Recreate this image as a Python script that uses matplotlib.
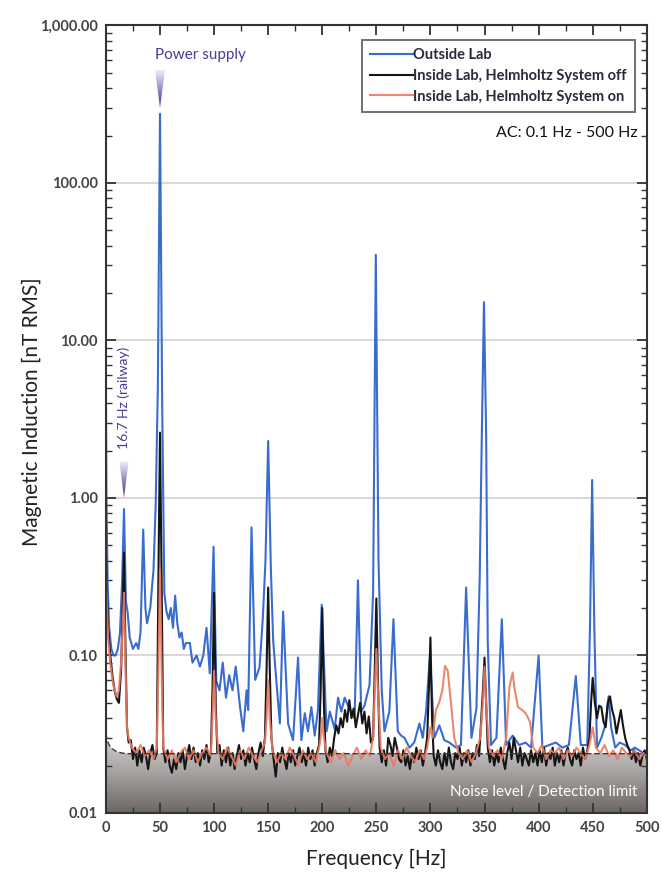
import numpy as np
import matplotlib
matplotlib.use("Agg")
from matplotlib import pyplot as plt
from matplotlib.ticker import FixedLocator, FuncFormatter, LogLocator, MultipleLocator
from matplotlib.colors import LinearSegmentedColormap
from matplotlib.patches import Polygon

plt.rcParams['font.family'] = ['Lato', 'DejaVu Sans']

# Outside Lab (blue)
blue_f = [0, 0.5, 1.5, 3, 5, 7, 9, 11, 13, 15, 16.7, 18.5, 20, 22, 25, 28, 30, 32, 34.5, 36.5,
          38, 41, 44, 46, 48, 50, 52, 54, 56, 58, 60, 62, 64, 66, 68, 70, 72, 74, 77.6, 80,
          83.8, 86.9, 90, 93, 96, 99.5, 102, 105, 108, 111, 114, 117, 120, 124, 127, 130, 131.5, 134.6, 138, 142,
          145, 147.5, 150, 152.5, 154.6, 157.7, 160.8, 163.8, 168.4, 173, 177.6, 180.7, 183.8, 186.8, 189.9, 193, 196, 199.5, 204, 207,
          211.5, 214.6, 217.6, 220.7, 223.8, 226.8, 229.9, 233, 236, 239, 243.7, 247, 249.5, 252, 255, 257.5, 262, 265.8, 269.8, 272.9,
          276, 280.6, 285, 289.8, 292.9, 295.9, 299.6, 303.6, 308.2, 312.8, 317.5, 323.6, 328.2, 333, 337.9, 342.5, 345.5, 347.5, 349.5, 351.5,
          353, 356, 361, 366, 370, 376, 382, 388, 393, 400, 403.5, 409.7, 415.9, 422, 428, 434.4, 439, 445, 447.5, 449.5,
          451.5, 454, 458, 461.6, 464.7, 467, 470.8, 475, 480, 485, 489, 493, 497, 500]
blue_v = [5.0, 1.0, 0.3, 0.15, 0.11, 0.1, 0.1, 0.11, 0.14, 0.3, 0.85, 0.22, 0.19, 0.13, 0.11, 0.12, 0.11, 0.14, 0.63, 0.2,
          0.16, 0.2, 0.35, 0.9, 5, 275, 4, 0.25, 0.19, 0.17, 0.2, 0.15, 0.24, 0.16, 0.13, 0.14, 0.11, 0.12, 0.12, 0.09,
          0.1, 0.085, 0.1, 0.15, 0.077, 0.49, 0.069, 0.06, 0.09, 0.054, 0.075, 0.06, 0.085, 0.047, 0.033, 0.06, 0.045, 0.65, 0.07, 0.084,
          0.17, 0.4, 2.3, 0.35, 0.125, 0.067, 0.037, 0.19, 0.037, 0.029, 0.097, 0.029, 0.043, 0.033, 0.047, 0.031, 0.045, 0.21, 0.033, 0.044,
          0.034, 0.054, 0.044, 0.054, 0.048, 0.044, 0.04, 0.3, 0.044, 0.048, 0.065, 0.25, 35, 0.4, 0.06, 0.033, 0.044, 0.17, 0.033, 0.031,
          0.03, 0.026, 0.028, 0.037, 0.03, 0.044, 0.1, 0.03, 0.036, 0.029, 0.028, 0.026, 0.027, 0.27, 0.03, 0.046, 0.3, 2.5, 17.5, 2.5,
          0.12, 0.027, 0.03, 0.17, 0.027, 0.031, 0.027, 0.028, 0.026, 0.1, 0.026, 0.027, 0.028, 0.026, 0.027, 0.074, 0.027, 0.027, 0.15, 1.3,
          0.15, 0.026, 0.03, 0.036, 0.055, 0.035, 0.026, 0.028, 0.027, 0.025, 0.026, 0.025, 0.024, 0.025]

# Inside Lab, Helmholtz System off (black)
black_f = [0, 1, 2, 4, 6, 8, 10, 12, 14, 15.5, 16.7, 18, 19.5, 21, 23, 25, 27, 29, 31, 33,
           35, 37, 39, 41, 43, 45, 47, 48.5, 50, 51.5, 53, 55, 57, 59, 61, 63, 65, 67, 69, 71,
           73, 75, 77, 79, 81, 83, 85, 87, 89, 91, 93, 95, 97, 98.5, 100, 101.5, 103, 105, 107, 109,
           111, 113, 115, 117, 119, 121, 123, 125, 127, 129, 131, 133, 135, 137, 139, 141, 143, 145, 147, 148.5,
           150, 151.5, 153, 155, 157, 159, 161, 163, 165, 167, 169, 171, 173, 175, 177, 179, 181, 183, 185, 187,
           189, 191, 193, 195, 197, 198.5, 200, 201.5, 203, 205, 207, 209, 211, 213, 215, 217, 219, 221, 223, 225,
           227, 229, 231, 233, 235, 237, 239, 241, 243, 245, 247, 248.5, 250, 251.5, 253, 255, 257, 259, 261, 263,
           265, 267, 269, 271, 273, 275, 277, 279, 281, 283, 285, 287, 289, 291, 293, 295, 297, 298.5, 300, 301.5,
           303, 305, 307, 309, 311, 313, 315, 317, 319, 321, 323, 325, 327, 329, 331, 333, 335, 337, 339, 341,
           343, 345, 347, 348.5, 350, 351.5, 353, 355, 357, 359, 361, 363, 365, 367, 369, 371, 373, 375, 377, 379,
           381, 383, 385, 387, 389, 391, 393, 395, 397, 399, 401, 403, 405, 407, 409, 411, 413, 415, 417, 419,
           421, 423, 425, 427, 429, 431, 433, 435, 437, 439, 441, 443, 445, 447, 448.5, 450, 452, 454, 456, 458,
           460, 462, 464, 466, 468, 470, 472, 474, 476, 478, 480, 482, 484, 486, 488, 490, 492, 494, 496, 498, 500]
black_v = [0.45, 0.25, 0.15, 0.1, 0.075, 0.06, 0.053, 0.05, 0.08, 0.2, 0.45, 0.12, 0.035, 0.028, 0.029, 0.022, 0.026, 0.02, 0.025, 0.021,
           0.026, 0.023, 0.019, 0.024, 0.027, 0.022, 0.024, 0.3, 2.6, 0.3, 0.026, 0.021, 0.025, 0.02, 0.018, 0.022, 0.019, 0.024, 0.021, 0.025,
           0.019, 0.023, 0.027, 0.022, 0.026, 0.021, 0.024, 0.02, 0.025, 0.022, 0.027, 0.021, 0.024, 0.06, 0.25, 0.05, 0.024, 0.027, 0.02, 0.025,
           0.021, 0.026, 0.02, 0.024, 0.019, 0.023, 0.027, 0.022, 0.025, 0.02, 0.024, 0.021, 0.026, 0.022, 0.019, 0.024, 0.028, 0.023, 0.03, 0.08,
           0.27, 0.08, 0.03, 0.022, 0.017, 0.024, 0.021, 0.026, 0.022, 0.019, 0.024, 0.021, 0.025, 0.02, 0.023, 0.026, 0.021, 0.024, 0.02, 0.026,
           0.022, 0.025, 0.02, 0.024, 0.027, 0.06, 0.2, 0.05, 0.025, 0.021, 0.026, 0.023, 0.03, 0.036, 0.032, 0.04, 0.035, 0.045, 0.038, 0.052,
           0.04, 0.046, 0.035, 0.042, 0.05, 0.037, 0.044, 0.032, 0.041, 0.028, 0.03, 0.08, 0.23, 0.07, 0.026, 0.021, 0.025, 0.02, 0.03, 0.027,
           0.023, 0.03, 0.026, 0.022, 0.021, 0.025, 0.02, 0.023, 0.019, 0.024, 0.021, 0.026, 0.022, 0.025, 0.02, 0.024, 0.03, 0.06, 0.13, 0.04,
           0.023, 0.02, 0.025, 0.021, 0.019, 0.024, 0.02, 0.026, 0.021, 0.019, 0.024, 0.022, 0.026, 0.02, 0.024, 0.021, 0.025, 0.02, 0.024, 0.022,
           0.027, 0.023, 0.04, 0.06, 0.097, 0.05, 0.026, 0.021, 0.025, 0.02, 0.024, 0.021, 0.026, 0.022, 0.019, 0.024, 0.028, 0.022, 0.03, 0.025,
           0.021, 0.026, 0.02, 0.024, 0.022, 0.02, 0.025, 0.021, 0.024, 0.02, 0.025, 0.021, 0.026, 0.02, 0.024, 0.022, 0.026, 0.02, 0.024, 0.021,
           0.025, 0.02, 0.024, 0.026, 0.022, 0.02, 0.025, 0.022, 0.024, 0.02, 0.026, 0.022, 0.025, 0.03, 0.05, 0.072, 0.05, 0.04, 0.048, 0.047,
           0.038, 0.035, 0.05, 0.055, 0.045, 0.04, 0.032, 0.038, 0.045, 0.036, 0.03, 0.027, 0.025, 0.022, 0.025, 0.021, 0.024, 0.02, 0.023, 0.025, 0.022]

# Inside Lab, Helmholtz System on (red)
red_f = [0, 1, 2, 4, 6, 8, 10, 12, 14, 15.5, 16.7, 18, 19.5, 21, 24, 28, 32, 36, 40, 44,
         47, 48.5, 50, 51.5, 53, 57, 61, 65, 69, 73, 77, 81, 85, 89, 93, 97, 98.5, 100, 101.5, 104,
         108, 112, 116, 120, 124, 128, 132, 136, 140, 144, 147, 148.5, 150, 151.5, 154, 158, 162, 166, 170, 174,
         178, 182, 186, 190, 194, 197, 198.5, 200, 201.5, 204, 208, 212, 216, 220, 224, 228, 232, 236, 240, 244,
         247, 248.5, 250, 251.5, 254, 258, 262, 266, 270, 274, 278, 282, 286, 290, 294, 297, 300, 302, 305, 308,
         311, 313.5, 316, 319, 322, 326, 330, 334, 338, 342, 346, 348.5, 350, 351.5, 354, 358, 362, 366, 370, 373,
         376, 378, 381, 385, 388, 392, 395, 399, 403, 407, 411, 415, 419, 423, 427, 431, 435, 439, 443, 447,
         450, 453, 457, 461, 465, 469, 473, 477, 481, 485, 489, 493, 497, 500]
red_v = [0.35, 0.2, 0.13, 0.09, 0.07, 0.06, 0.055, 0.06, 0.09, 0.15, 0.25, 0.09, 0.035, 0.03, 0.026, 0.024, 0.027, 0.023, 0.025, 0.022,
         0.026, 0.08, 0.35, 0.08, 0.026, 0.022, 0.025, 0.021, 0.024, 0.026, 0.022, 0.025, 0.021, 0.024, 0.026, 0.023, 0.04, 0.08, 0.04, 0.024,
         0.022, 0.026, 0.023, 0.02, 0.025, 0.022, 0.026, 0.023, 0.021, 0.025, 0.028, 0.04, 0.07, 0.04, 0.025, 0.021, 0.024, 0.022, 0.026, 0.023,
         0.02, 0.025, 0.022, 0.024, 0.021, 0.026, 0.03, 0.04, 0.03, 0.024, 0.021, 0.025, 0.022, 0.024, 0.02, 0.023, 0.026, 0.022, 0.025, 0.023,
         0.03, 0.06, 0.11, 0.06, 0.026, 0.022, 0.024, 0.02, 0.025, 0.022, 0.026, 0.023, 0.021, 0.025, 0.022, 0.026, 0.035, 0.03, 0.045, 0.05,
         0.06, 0.086, 0.08, 0.05, 0.03, 0.024, 0.022, 0.025, 0.021, 0.024, 0.03, 0.05, 0.085, 0.05, 0.026, 0.023, 0.025, 0.022, 0.03, 0.063,
         0.078, 0.06, 0.047, 0.045, 0.043, 0.038, 0.026, 0.024, 0.027, 0.022, 0.025, 0.024, 0.026, 0.022, 0.025, 0.023, 0.026, 0.024, 0.022, 0.027,
         0.035, 0.026, 0.024, 0.027, 0.023, 0.025, 0.022, 0.026, 0.024, 0.023, 0.025, 0.022, 0.024, 0.023]

# noise level / detection limit
noise_f = [0, 1, 3, 6, 10, 15, 20, 500]
noise_v = [0.032, 0.029, 0.027, 0.0255, 0.0245, 0.024, 0.0238, 0.0238]

yticks = [0.01, 0.1, 1, 10, 100, 1000]
ytick_labels = ["0.01", "0.10", "1.00", "10.00", "100.00", "1,000.00"]

fig = plt.figure(figsize=(6.62, 8.77), dpi=100)
ax = fig.add_axes([0.160, 0.073, 0.817, 0.898])
ax.set_yscale("log")
ax.set_xlim(0, 500)
ax.set_ylim(0.01, 1000)

# grid
for v in [0.1, 1, 10, 100]:
    ax.axhline(v, color="#d9d0d0", lw=1.2, zorder=1)

# gradient for noise area
gray_cmap = LinearSegmentedColormap.from_list("g", ["#6c6563", "#a8a4a3", "#d6d5d5"])
poly = ax.fill_between(noise_f, 0.01, noise_v, facecolor="none", edgecolor="none")
grad = np.linspace(0, 1, 256).reshape(-1, 1)
im = ax.imshow(grad, cmap=gray_cmap, origin="lower", aspect="auto",
               extent=[0, 1, 0, 0.105], transform=ax.transAxes, zorder=1.5)
im.set_clip_path(poly.get_paths()[0], transform=ax.transData)
ax.set_xlim(0, 500)
ax.set_ylim(0.01, 1000)

ax.plot(blue_f, blue_v, color="#3a6ccf", lw=1.5, zorder=3, label="Outside Lab")
ax.plot(black_f, black_v, color="#151515", lw=1.5, zorder=4, label="Inside Lab, Helmholtz System off")
ax.plot(red_f, red_v, color="#ec7a62", lw=1.5, zorder=5, alpha=0.9, label="Inside Lab, Helmholtz System on")
ax.plot(noise_f, noise_v, color="#3a3a3a", lw=1.0, ls=(0, (4, 2)), zorder=6)

# ticks
ax.yaxis.set_major_locator(FixedLocator(yticks))
ax.yaxis.set_major_formatter(FuncFormatter(lambda v, p: ytick_labels[yticks.index(min(yticks, key=lambda t: abs(np.log10(t) - np.log10(v))))]))
ax.yaxis.set_minor_locator(LogLocator(base=10, subs=np.arange(2, 10)))
ax.yaxis.set_minor_formatter(FuncFormatter(lambda v, p: ""))
ax.xaxis.set_major_locator(MultipleLocator(50))
ax.xaxis.set_minor_locator(MultipleLocator(25))
ax.tick_params(axis="both", which="both", direction="in", top=True, right=True, colors="#333333")
ax.tick_params(which="major", length=7, width=1.3, labelsize=10.5, labelcolor="#444444", pad=6)
ax.tick_params(which="minor", length=4, width=1.0)
for lab in ax.get_xticklabels() + ax.get_yticklabels():
    lab.set_fontweight("bold")
for s in ax.spines.values():
    s.set_color("#333333")
    s.set_linewidth(1.5)
    s.set_zorder(7)

ax.set_ylabel("Magnetic Induction [nT RMS]", fontsize=15, color="#222222")
ax.yaxis.set_label_coords(-0.118, 0.51)
ax.set_xlabel("Frequency [Hz]", fontsize=15, color="#222222", labelpad=10)

leg = ax.legend(loc="upper right", bbox_to_anchor=(0.978, 0.981), borderaxespad=0, fontsize=10.5,
                handlelength=2.9, handletextpad=0.05, fancybox=False, framealpha=1, edgecolor="#666666",
                borderpad=0.55, labelspacing=0.45)
leg.get_frame().set_linewidth(1.3)
for t in leg.get_texts():
    t.set_color("#2a2a3a")
    t.set_fontweight("bold")

ax.text(0.983, 0.863, "AC: 0.1 Hz - 500 Hz", transform=ax.transAxes, ha="right", va="center", fontsize=11.5, color="#111111")
ax.text(0.982, 0.027, "Noise level / Detection limit", transform=ax.transAxes, ha="right", va="center",
        fontsize=11, color="white", zorder=8)

# annotations with gradient triangles
purple = "#4a3c98"
tri_cmap = LinearSegmentedColormap.from_list("p", ["#3b2d8c", "#f0eef8"])
to_axes = ax.transScale + ax.transLimits


def grad_triangle(xc, y_top, y_tip, half_w):
    (xl, yt) = to_axes.transform((xc - half_w, y_top))
    (xr, _) = to_axes.transform((xc + half_w, y_top))
    (xm, yb) = to_axes.transform((xc, y_tip))
    tri = Polygon([[xl, yt], [xr, yt], [xm, yb]], closed=True, transform=ax.transAxes,
                  facecolor="none", edgecolor="none")
    ax.add_patch(tri)
    g = ax.imshow(grad, cmap=tri_cmap, origin="lower", aspect="auto",
                  extent=[xl, xr, yb, yt], transform=ax.transAxes, zorder=8)
    g.set_clip_path(tri)


grad_triangle(50, 520, 300, 4.6)
grad_triangle(16.7, 1.7, 1.0, 4.2)
ax.set_xlim(0, 500)
ax.set_ylim(0.01, 1000)

ax.text(45, 650, "Power supply", fontsize=11, color=purple, ha="left", va="center", zorder=8)
ax.text(16.7, 2.05, "16.7 Hz (railway)", fontsize=10, color=purple, rotation=90, ha="center", va="bottom", zorder=8)

fig.savefig("out.png", dpi=100, facecolor="white")
